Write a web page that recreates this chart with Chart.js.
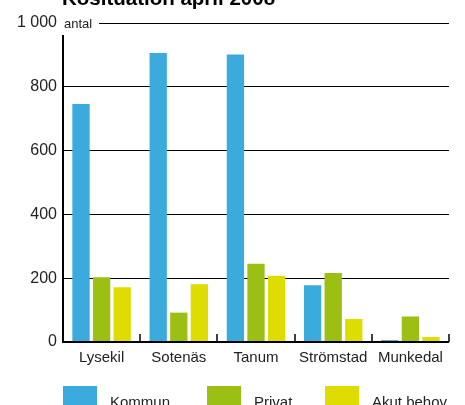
<!DOCTYPE html>
<html>
<head>
<meta charset="utf-8">
<script src="https://cdn.jsdelivr.net/npm/chart.js@4.4.1/dist/chart.umd.min.js"></script>
<style>
  html, body { margin: 0; padding: 0; background: #fff; overflow: hidden; }
  #wrap { width: 465px; height: 405px; position: relative; }
</style>
</head>
<body>
<div id="wrap"><canvas id="c" width="465" height="405"></canvas></div>
<script>
const title = 'Kösituation april 2008';
const categories = ['Lysekil', 'Sotenäs', 'Tanum', 'Strömstad', 'Munkedal'];
const seriesNames = ['Kommun', 'Privat', 'Akut behov'];
const kommun = [746, 906, 901, 178, 6];
const privat = [203, 92, 245, 216, 80];
const akut = [172, 181, 208, 72, 16];
const yTicks = [0, 200, 400, 600, 800, 1000];
const colors = ['#3baadc', '#9bbf12', '#dedc00'];

const FONT = 'Liberation Sans, Arial, Helvetica, sans-serif';

const axisPlugin = {
    id: 'axisDecor',
    afterDraw(chart) {
        const { ctx, chartArea, scales } = chart;
        const x = scales.x, y = scales.y;
        const y0 = y.getPixelForValue(0);
        const yTop = y.getPixelForValue(1000);
        ctx.save();

        // white patch behind "antal" on the top gridline
        ctx.fillStyle = '#fff';
        ctx.fillRect(chartArea.left - 1, yTop - 3, 37, 6);
        ctx.fillStyle = '#222';
        ctx.font = '13px ' + FONT;
        ctx.textBaseline = 'middle';
        ctx.textAlign = 'left';
        ctx.fillText('antal', chartArea.left + 1, yTop + 1);

        // left axis
        ctx.strokeStyle = '#000';
        ctx.lineWidth = 2;
        ctx.beginPath();
        ctx.moveTo(chartArea.left, yTop + 12);
        ctx.lineTo(chartArea.left, y0 + 1);
        ctx.stroke();

        // bottom axis
        ctx.beginPath();
        ctx.moveTo(chartArea.left, y0);
        ctx.lineTo(chartArea.right, y0);
        ctx.stroke();

        // small ticks between categories
        ctx.lineWidth = 1.5;
        const n = categories.length;
        for (let i = 0; i < n; i++) {
            const a = x.getPixelForTick(i);
            const b = i < n - 1 ? x.getPixelForTick(i + 1) : a + (a - x.getPixelForTick(i - 1));
            const px = Math.round((a + b) / 2);
            ctx.beginPath();
            ctx.moveTo(px, y0);
            ctx.lineTo(px, y0 - 8);
            ctx.stroke();
        }

        // title (cut off at the top)
        ctx.fillStyle = '#000';
        ctx.font = 'bold 20.5px ' + FONT;
        ctx.textAlign = 'left';
        ctx.textBaseline = 'alphabetic';
        ctx.fillText(title, chartArea.left - 1, 5);

        // legend
        ctx.font = '15px ' + FONT;
        const legX = [chartArea.left, chartArea.left + 144, chartArea.left + 262];
        chart.data.datasets.forEach((ds, i) => {
            ctx.fillStyle = ds.backgroundColor;
            ctx.fillRect(legX[i], y0 + 44, 34, 24);
            ctx.fillStyle = '#222';
            ctx.textBaseline = 'top';
            ctx.fillText(ds.label, legX[i] + 47, y0 + 53);
        });
        ctx.restore();
    }
};

new Chart(document.getElementById('c'), {
    type: 'bar',
    data: {
        labels: categories,
        datasets: [kommun, privat, akut].map((vals, i) => ({
            label: seriesNames[i],
            data: vals,
            backgroundColor: colors[i],
            categoryPercentage: 0.8,
            barPercentage: 0.84,
        })),
    },
    options: {
        responsive: false,
        animation: false,
        layout: { padding: { top: 23, right: 16, left: 0, bottom: 0 } },
        plugins: {
            legend: { display: false },
            tooltip: { enabled: false },
        },
        scales: {
            x: {
                grid: { display: false, drawTicks: false },
                border: { display: false },
                ticks: { color: '#222', font: { size: 15, family: FONT }, padding: 7, maxRotation: 0, autoSkip: false },
                afterFit: (s) => { s.height = 63; },
            },
            y: {
                min: 0,
                max: 1000,
                afterBuildTicks: (s) => { s.ticks = yTicks.map((v) => ({ value: v })); },
                grid: { color: '#000', lineWidth: 1, drawTicks: false },
                border: { display: false },
                ticks: {
                    color: '#222',
                    font: { size: 16, family: FONT },
                    padding: 6,
                    callback: (v) => v >= 1000 ? '1\u00a0000' : String(v),
                },
                afterFit: (s) => { s.width = 63; },
            },
        },
    },
    plugins: [axisPlugin],
});
</script>
</body>
</html>
